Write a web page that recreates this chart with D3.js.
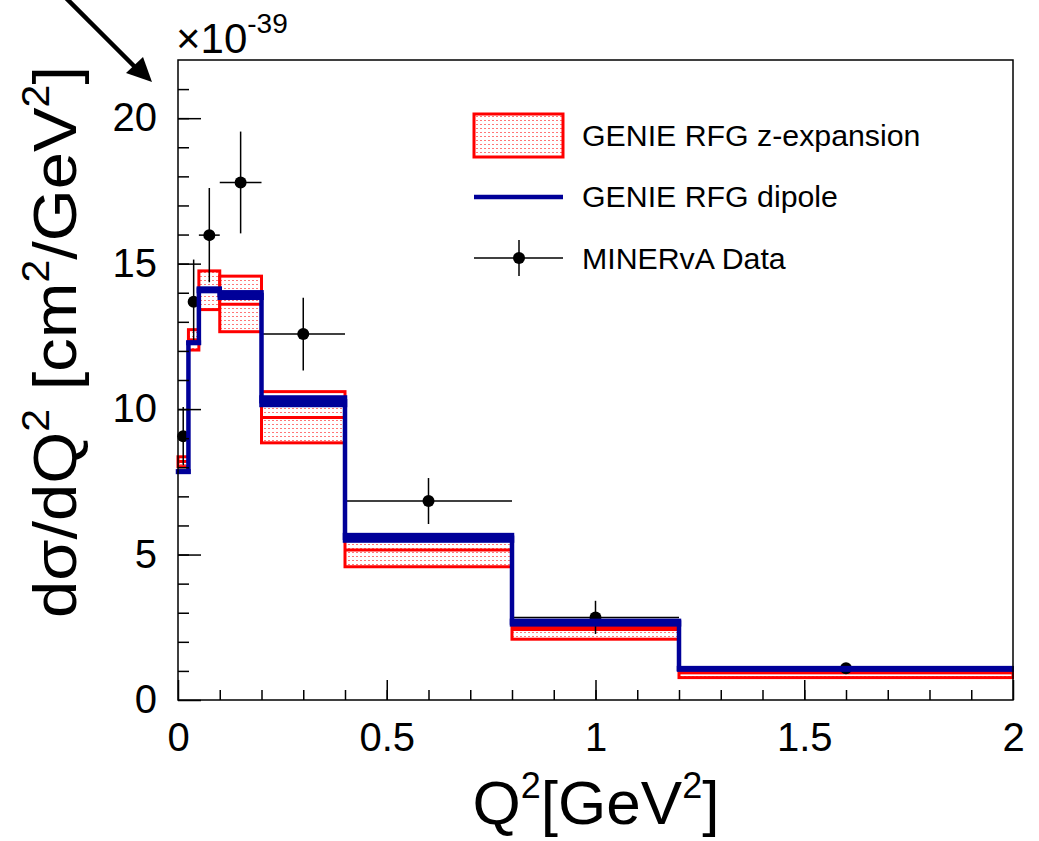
<!DOCTYPE html>
<html>
<head>
<meta charset="utf-8">
<script src="https://cdn.jsdelivr.net/npm/d3@7"></script>
<style>
  body { margin: 0; background: #fff; }
  text { font-family: "Liberation Sans", Arial, Helvetica, sans-serif; }
</style>
</head>
<body>
<svg width="1039" height="841"></svg>
<script>
// bin edges in Q2 [GeV2]
var binEdges = [0, 0.025, 0.05, 0.1, 0.2, 0.4, 0.8, 1.2, 2.0];

// GENIE RFG dipole (central value and half thickness of the band)
var dipoleVal  = [7.85, 12.28, 14.1, 13.92, 10.27, 5.575, 2.66, 1.07];
var dipoleHalf = [0.01, 0.01, 0.043, 0.094, 0.129, 0.094, 0.06, 0.026];

// GENIE RFG z-expansion (central, low, high)
var zexpVal  = [8.2, 12.38, 14.1, 13.6, 9.71, 5.16, 2.42, 0.935];
var zexpLow  = [8.02, 12.03, 13.42, 12.66, 8.84, 4.58, 2.09, 0.77];
var zexpHigh = [8.36, 12.73, 14.75, 14.57, 10.6, 5.6, 2.5, 0.94];

// MINERvA data
var dataY   = [9.07, 13.69, 15.98, 17.79, 12.58, 6.84, 2.84, 1.09];
var dataErr = [1.0, 1.45, 1.62, 1.75, 1.25, 0.79, 0.57, 0.15];

var xTicks = [0, 0.5, 1, 1.5, 2];
var yTicks = [0, 5, 10, 15, 20];

var svg = d3.select("svg");
var x = d3.scaleLinear().domain([0, 2]).range([178, 1013]);
var y = d3.scaleLinear().domain([0, 22]).range([700, 60]);

var blue = "#000099", red = "#ff0000";

var defs = svg.append("defs");
var pat = defs.append("pattern")
    .attr("id", "dots")
    .attr("patternUnits", "userSpaceOnUse")
    .attr("width", 4).attr("height", 4);
pat.append("rect").attr("width", 4).attr("height", 4).attr("fill", "#fff");
pat.append("rect").attr("width", 2).attr("height", 1).attr("fill", "#ff7777");

svg.append("rect").attr("width", 1039).attr("height", 841).attr("fill", "#fff");

var bins = d3.range(binEdges.length - 1).map(function(i) {
  return {lo: binEdges[i], hi: binEdges[i + 1], i: i};
});

// z-expansion band
var band = svg.append("g");
band.selectAll("rect").data(bins).enter().append("rect")
    .attr("x", function(d) { return x(d.lo); })
    .attr("width", function(d) { return x(d.hi) - x(d.lo); })
    .attr("y", function(d) { return y(zexpHigh[d.i]); })
    .attr("height", function(d) { return y(zexpLow[d.i]) - y(zexpHigh[d.i]); })
    .attr("fill", "url(#dots)")
    .attr("stroke", red).attr("stroke-width", 3);
band.selectAll("line").data(bins).enter().append("line")
    .attr("x1", function(d) { return x(d.lo); })
    .attr("x2", function(d) { return x(d.hi); })
    .attr("y1", function(d) { return y(zexpVal[d.i]); })
    .attr("y2", function(d) { return y(zexpVal[d.i]); })
    .attr("stroke", red).attr("stroke-width", 3);

// data points
var pts = svg.append("g").selectAll("g").data(bins).enter().append("g");
pts.append("line")
    .attr("x1", function(d) { return x(d.lo); })
    .attr("x2", function(d) { return x(d.hi); })
    .attr("y1", function(d) { return y(dataY[d.i]); })
    .attr("y2", function(d) { return y(dataY[d.i]); })
    .attr("stroke", "#000").attr("stroke-width", 1.5);
pts.append("line")
    .attr("x1", function(d) { return x((d.lo + d.hi) / 2); })
    .attr("x2", function(d) { return x((d.lo + d.hi) / 2); })
    .attr("y1", function(d) { return y(dataY[d.i] + dataErr[d.i]); })
    .attr("y2", function(d) { return y(dataY[d.i] - dataErr[d.i]); })
    .attr("stroke", "#000").attr("stroke-width", 1.5);
pts.append("circle")
    .attr("cx", function(d) { return x((d.lo + d.hi) / 2); })
    .attr("cy", function(d) { return y(dataY[d.i]); })
    .attr("r", 6).attr("fill", "#000");

// dipole
svg.append("g").selectAll("rect").data(bins).enter().append("rect")
    .attr("x", function(d) { return x(d.lo); })
    .attr("width", function(d) { return x(d.hi) - x(d.lo); })
    .attr("y", function(d) { return y(dipoleVal[d.i] + dipoleHalf[d.i]); })
    .attr("height", function(d) { return y(dipoleVal[d.i] - dipoleHalf[d.i]) - y(dipoleVal[d.i] + dipoleHalf[d.i]); })
    .attr("fill", blue).attr("stroke", blue).attr("stroke-width", 4.5);
var stepPts = bins.map(function(d) { return [d.lo, dipoleVal[d.i]]; });
stepPts.push([2, dipoleVal[dipoleVal.length - 1]]);
svg.append("path")
    .attr("d", d3.line().x(function(p) { return x(p[0]); }).y(function(p) { return y(p[1]); }).curve(d3.curveStepAfter)(stepPts))
    .attr("fill", "none").attr("stroke", blue).attr("stroke-width", 4.5);

// white out anything past the right edge
svg.append("rect").attr("x", 1014).attr("y", 0).attr("width", 30).attr("height", 841).attr("fill", "#fff");

// frame
svg.append("rect").attr("x", 178).attr("y", 60).attr("width", 835).attr("height", 640)
    .attr("fill", "none").attr("stroke", "#000").attr("stroke-width", 1.5);

// axes (ticks pointing inward, ROOT style)
var xMaj = svg.append("g").attr("transform", "translate(0,700)")
    .call(d3.axisBottom(x).tickValues(xTicks).tickSize(-20).tickPadding(23)
      .tickFormat(function(d) { return d3.format("")(d); }));
var xMin = svg.append("g").attr("transform", "translate(0,700)")
    .call(d3.axisBottom(x).tickValues(d3.range(1, 20).map(function(k) { return k / 10; })).tickSize(-10).tickFormat(""));
var yMaj = svg.append("g").attr("transform", "translate(178,0)")
    .call(d3.axisLeft(y).tickValues(yTicks).tickSize(-23).tickPadding(21));
var yMin = svg.append("g").attr("transform", "translate(178,0)")
    .call(d3.axisLeft(y).tickValues(d3.range(1, 22)).tickSize(-11).tickFormat(""));
[xMaj, xMin, yMaj, yMin].forEach(function(g) {
  g.select(".domain").remove();
  g.selectAll(".tick line").attr("stroke", "#000").attr("stroke-width", 1.5);
  g.selectAll("text").attr("font-size", 40).attr("fill", "#000")
    .attr("font-family", "Liberation Sans, Arial, sans-serif");
});

// exponent
var ex = svg.append("text").attr("x", 176).attr("y", 53).attr("font-size", 42);
ex.append("tspan").text("\u00d710");
ex.append("tspan").attr("dy", -20).attr("font-size", 28).text("-39");

// axis titles
var xt = svg.append("text").attr("x", 596).attr("y", 824).attr("text-anchor", "middle").attr("font-size", 62);
xt.append("tspan").text("Q");
xt.append("tspan").attr("dy", -26).attr("font-size", 36).text("2");
xt.append("tspan").attr("dy", 26).text("[GeV");
xt.append("tspan").attr("dy", -26).attr("font-size", 36).text("2");
xt.append("tspan").attr("dy", 26).text("]");

var yt = svg.append("text").attr("transform", "translate(76,342) rotate(-90)")
    .attr("text-anchor", "middle").attr("font-size", 62)
    .attr("textLength", 552).attr("lengthAdjust", "spacingAndGlyphs");
yt.append("tspan").text("d\u03c3/dQ");
yt.append("tspan").attr("dy", -27).attr("font-size", 38).text("2");
yt.append("tspan").attr("dy", 27).text(" [cm");
yt.append("tspan").attr("dy", -27).attr("font-size", 38).text("2");
yt.append("tspan").attr("dy", 27).text("/GeV");
yt.append("tspan").attr("dy", -27).attr("font-size", 38).text("2");
yt.append("tspan").attr("dy", 27).text("]");

// legend
var lg = svg.append("g");
lg.append("rect").attr("x", 474).attr("y", 114).attr("width", 89).attr("height", 43)
    .attr("fill", "url(#dots)").attr("stroke", red).attr("stroke-width", 3);
lg.append("line").attr("x1", 474).attr("x2", 563).attr("y1", 197).attr("y2", 197)
    .attr("stroke", blue).attr("stroke-width", 4.5);
lg.append("line").attr("x1", 474).attr("x2", 563).attr("y1", 258).attr("y2", 258)
    .attr("stroke", "#000").attr("stroke-width", 1.5);
lg.append("line").attr("x1", 519).attr("x2", 519).attr("y1", 240).attr("y2", 276)
    .attr("stroke", "#000").attr("stroke-width", 1.5);
lg.append("circle").attr("cx", 519).attr("cy", 258).attr("r", 6).attr("fill", "#000");
var legText = ["GENIE RFG z-expansion", "GENIE RFG dipole", "MINERvA Data"];
var legY = [146, 207, 269];
lg.selectAll("text.leg").data(legText).enter().append("text")
    .attr("class", "leg")
    .attr("x", 582).attr("y", function(d, i) { return legY[i]; })
    .attr("font-size", 30.3).text(function(d) { return d; });

// arrow at top left
svg.append("line").attr("x1", 58).attr("y1", -10).attr("x2", 136).attr("y2", 68)
    .attr("stroke", "#000").attr("stroke-width", 4.5);
svg.append("path").attr("d", "M152,82 L126,73 L143,57 Z").attr("fill", "#000");
</script>
</body>
</html>
